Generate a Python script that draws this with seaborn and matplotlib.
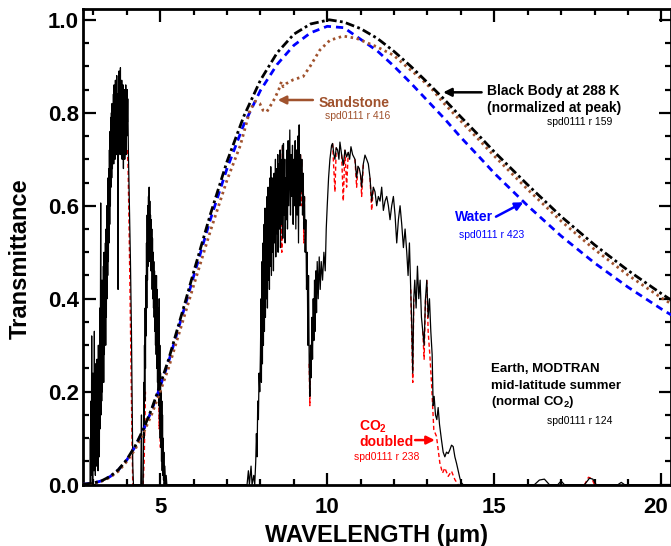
import matplotlib
matplotlib.use("Agg")
import matplotlib.pyplot as plt
import matplotlib.transforms as mtransforms
from matplotlib.ticker import MultipleLocator
import seaborn as sns
import pandas as pd

# ---------------- data ----------------
# Earth MODTRAN mid-latitude summer transmittance (normal CO2)
earth_wl = [2.69, 2.90, 2.91, 2.92, 2.93, 2.94, 2.95, 2.96, 2.97, 2.98, 2.99, 3.00, 3.01, 3.02, 3.03, 3.04,
            3.05, 3.06, 3.07, 3.08, 3.09, 3.10, 3.11, 3.12, 3.13, 3.14, 3.15, 3.16, 3.17, 3.18, 3.19, 3.20,
            3.21, 3.22, 3.23, 3.24, 3.25, 3.26, 3.27, 3.28, 3.29, 3.30, 3.31, 3.32, 3.33, 3.34, 3.35, 3.36,
            3.37, 3.38, 3.39, 3.40, 3.41, 3.42, 3.43, 3.44, 3.45, 3.46, 3.47, 3.48, 3.49, 3.50, 3.51, 3.52,
            3.53, 3.54, 3.55, 3.56, 3.57, 3.58, 3.59, 3.60, 3.61, 3.62, 3.63, 3.64, 3.65, 3.66, 3.67, 3.68,
            3.69, 3.70, 3.71, 3.72, 3.73, 3.74, 3.75, 3.76, 3.77, 3.78, 3.79, 3.80, 3.81, 3.82, 3.83, 3.84,
            3.85, 3.86, 3.87, 3.88, 3.89, 3.90, 3.91, 3.92, 3.93, 3.94, 3.95, 3.96, 3.97, 3.98, 3.99, 4.00,
            4.01, 4.02, 4.03, 4.05, 4.08, 4.11, 4.14, 4.16, 4.18, 4.20,
            4.42, 4.44, 4.45, 4.49, 4.50, 4.51, 4.52, 4.53, 4.54, 4.55, 4.56, 4.57, 4.58, 4.59, 4.60, 4.61,
            4.62, 4.63, 4.64, 4.65, 4.66, 4.67, 4.68, 4.69, 4.70, 4.71, 4.72, 4.73, 4.74, 4.75, 4.76, 4.77,
            4.78, 4.79, 4.80, 4.81, 4.82, 4.83, 4.84, 4.85, 4.86, 4.87, 4.88, 4.89, 4.90, 4.91, 4.92, 4.93,
            4.94, 4.95, 4.96, 4.97, 4.98, 4.99, 5.00, 5.01, 5.02, 5.03, 5.04, 5.05, 5.06, 5.07, 5.08, 5.09,
            5.10, 5.11, 5.12, 5.14, 5.16, 5.18, 5.20,
            7.60, 7.64, 7.67, 7.72, 7.75, 7.80, 7.83, 7.86, 7.88, 7.90, 7.92, 7.94, 7.96, 7.98,
            8.00, 8.02, 8.03, 8.05, 8.06, 8.08, 8.09, 8.11, 8.12, 8.14, 8.15, 8.17, 8.18, 8.20, 8.21, 8.23,
            8.24, 8.26, 8.27, 8.29, 8.30, 8.31, 8.33, 8.35, 8.36, 8.38, 8.39, 8.41, 8.43, 8.45, 8.46, 8.48,
            8.50, 8.52, 8.53, 8.55, 8.57, 8.59, 8.60, 8.62, 8.64, 8.66, 8.67, 8.69, 8.71, 8.73, 8.74, 8.76,
            8.78, 8.80, 8.81, 8.83, 8.85, 8.88, 8.90, 8.92, 8.94, 8.96, 8.98, 9.00, 9.02, 9.04, 9.06, 9.08,
            9.10, 9.12, 9.14, 9.16, 9.18, 9.20, 9.22, 9.24, 9.26, 9.28, 9.30, 9.32, 9.34, 9.36, 9.38, 9.40,
            9.42, 9.44, 9.46, 9.48, 9.50, 9.52, 9.54, 9.56, 9.58, 9.60, 9.62, 9.64, 9.66, 9.68, 9.70, 9.73,
            9.76, 9.79, 9.82, 9.86, 9.90, 9.94, 9.97, 10.00, 10.04, 10.08, 10.13,
            10.16, 10.20, 10.23, 10.27, 10.31, 10.35, 10.38, 10.43, 10.48, 10.53, 10.58, 10.63, 10.67, 10.71,
            10.76, 10.83, 10.88, 10.92, 10.96, 11.00, 11.03, 11.08, 11.13, 11.18, 11.23, 11.28, 11.33, 11.38,
            11.43, 11.48, 11.53, 11.58, 11.63, 11.68, 11.73, 11.78, 11.83, 11.88, 11.93, 11.98, 12.03, 12.08,
            12.13, 12.18, 12.23, 12.28, 12.33, 12.38, 12.42, 12.46, 12.50, 12.53, 12.56, 12.59, 12.62, 12.66,
            12.70, 12.74, 12.78, 12.82, 12.86, 12.90, 12.94, 12.98, 13.02, 13.06, 13.10, 13.14, 13.17, 13.20,
            13.24, 13.28, 13.32, 13.36, 13.42, 13.47, 13.52, 13.57, 13.62, 13.67, 13.72, 13.77, 13.82, 13.87,
            13.92, 13.97, 14.02, 14.07,
            16.20, 16.35, 16.50, 16.65, 16.90, 17.00, 17.10, 17.70, 17.85, 17.95, 18.05, 18.70, 18.80, 18.90,
            20.30]
earth_tr = [0.0, 0.0, 0.10, 0.0, 0.18, 0.02, 0.32, 0.04, 0.20, 0.01, 0.24, 0.05, 0.19, 0.03, 0.33, 0.06,
            0.22, 0.02, 0.26, 0.07, 0.21, 0.04, 0.27, 0.08, 0.24, 0.03, 0.30, 0.10, 0.26, 0.06, 0.38, 0.12,
            0.32, 0.606, 0.15, 0.40, 0.18, 0.44, 0.20, 0.42, 0.24, 0.47, 0.22, 0.50, 0.28, 0.46, 0.32, 0.52,
            0.30, 0.55, 0.36, 0.60, 0.40, 0.58, 0.45, 0.66, 0.48, 0.68, 0.52, 0.72, 0.56, 0.76, 0.60, 0.79,
            0.64, 0.80, 0.66, 0.82, 0.68, 0.78, 0.70, 0.84, 0.69, 0.86, 0.72, 0.83, 0.70, 0.87, 0.73, 0.85,
            0.71, 0.88, 0.74, 0.84, 0.70, 0.42, 0.80, 0.72, 0.89, 0.74, 0.86, 0.71, 0.897, 0.75, 0.85, 0.72,
            0.87, 0.70, 0.84, 0.74, 0.86, 0.68, 0.83, 0.72, 0.85, 0.70, 0.82, 0.73, 0.86, 0.71, 0.84, 0.75,
            0.85, 0.78, 0.83, 0.71, 0.60, 0.48, 0.33, 0.18, 0.04, 0.0,
            0.0, 0.15, 0.0, 0.0, 0.08, 0.22, 0.10, 0.30, 0.18, 0.38, 0.25, 0.45, 0.32, 0.52, 0.38, 0.58,
            0.44, 0.60, 0.47, 0.62, 0.50, 0.64, 0.48, 0.61, 0.50, 0.58, 0.46, 0.57, 0.47, 0.55, 0.42, 0.53,
            0.40, 0.50, 0.38, 0.48, 0.36, 0.46, 0.33, 0.45, 0.30, 0.44, 0.28, 0.45, 0.25, 0.42, 0.22, 0.38,
            0.20, 0.36, 0.17, 0.40, 0.14, 0.30, 0.10, 0.24, 0.08, 0.20, 0.05, 0.18, 0.03, 0.15, 0.02, 0.10,
            0.01, 0.07, 0.0, 0.04, 0.0, 0.02, 0.0,
            0.0, 0.03, 0.0, 0.04, 0.0, 0.02, 0.0, 0.05, 0.11, 0.06, 0.18, 0.14, 0.24, 0.20,
            0.28, 0.40, 0.22, 0.48, 0.26, 0.52, 0.30, 0.56, 0.33, 0.595, 0.36, 0.58, 0.40, 0.62, 0.38, 0.64,
            0.44, 0.60, 0.42, 0.66, 0.47, 0.684, 0.45, 0.66, 0.50, 0.64, 0.46, 0.67, 0.52, 0.70, 0.49, 0.68,
            0.54, 0.71, 0.50, 0.69, 0.55, 0.72, 0.51, 0.70, 0.56, 0.73, 0.53, 0.734, 0.58, 0.70, 0.52, 0.66,
            0.57, 0.72, 0.55, 0.74, 0.60, 0.763, 0.58, 0.71, 0.62, 0.73, 0.56, 0.70, 0.60, 0.74, 0.55, 0.72,
            0.58, 0.75, 0.52, 0.774, 0.60, 0.71, 0.63, 0.70, 0.58, 0.67, 0.55, 0.62, 0.50, 0.57, 0.42, 0.50,
            0.30, 0.45, 0.26, 0.19, 0.30, 0.23, 0.36, 0.27, 0.40, 0.31, 0.44, 0.33, 0.46, 0.37, 0.48, 0.40,
            0.49, 0.42, 0.48, 0.44, 0.50, 0.46, 0.55, 0.60, 0.66, 0.70, 0.73,
            0.734, 0.71, 0.70, 0.725, 0.72, 0.70, 0.737, 0.71, 0.687, 0.72, 0.705, 0.715, 0.70, 0.727,
            0.71, 0.70, 0.66, 0.685, 0.68, 0.665, 0.64, 0.69, 0.709, 0.70, 0.69, 0.66, 0.61, 0.64,
            0.63, 0.60, 0.62, 0.61, 0.64, 0.59, 0.61, 0.62, 0.60, 0.57, 0.60, 0.62, 0.58, 0.52,
            0.57, 0.60, 0.56, 0.51, 0.55, 0.50, 0.45, 0.52, 0.42, 0.34, 0.24, 0.40, 0.44, 0.38,
            0.47, 0.40, 0.44, 0.36, 0.33, 0.30, 0.40, 0.44, 0.36, 0.40, 0.33, 0.28, 0.17, 0.19,
            0.15, 0.14, 0.166, 0.13, 0.096, 0.07, 0.06, 0.07, 0.067, 0.075, 0.085, 0.082, 0.06, 0.046,
            0.03, 0.014, 0.004, 0.0,
            0.0, 0.01, 0.012, 0.0, 0.0, 0.008, 0.0, 0.0, 0.014, 0.012, 0.0, 0.0, 0.005, 0.0,
            0.0]

# CO2 doubled: segments where it departs from the normal-CO2 curve
co2_seg = [1, 1, 1, 1, 1, 1, 1,
           2, 2, 2, 2,
           3, 3, 3, 3, 3,
           4, 4, 4, 5, 5, 5, 6, 6, 6,
           7, 7, 7,
           8, 8, 8, 9, 9, 9, 10, 10, 10, 11, 11, 11, 12, 12, 12, 13, 13, 13,
           14, 14, 14, 15, 15, 15,
           16, 16, 16, 16, 16, 16, 16, 16, 16, 16, 16, 16, 16,
           17, 17, 17, 17]
co2_wl = [4.02, 4.04, 4.07, 4.10, 4.13, 4.16, 4.18,
          4.49, 4.52, 4.54, 4.56,
          4.93, 4.95, 4.97, 4.99, 5.00,
          8.62, 8.64, 8.66, 9.20, 9.22, 9.24, 9.28, 9.30, 9.32,
          9.46, 9.48, 9.50,
          10.16, 10.23, 10.27, 10.43, 10.48, 10.53, 10.53, 10.58, 10.63, 10.83, 10.88, 10.92,
          11.00, 11.03, 11.08, 11.28, 11.33, 11.38,
          12.50, 12.56, 12.59, 12.86, 12.90, 12.94,
          12.98, 13.02, 13.07, 13.12, 13.19, 13.27, 13.37, 13.45, 13.52, 13.62, 13.72, 13.82, 13.92,
          17.70, 17.82, 17.92, 18.00]
co2_tr = [0.72, 0.68, 0.55, 0.40, 0.24, 0.08, 0.0,
          0.0, 0.05, 0.12, 0.20,
          0.30, 0.25, 0.12, 0.20, 0.08,
          0.70, 0.50, 0.73, 0.71, 0.60, 0.70, 0.67, 0.52, 0.62,
          0.26, 0.17, 0.30,
          0.734, 0.63, 0.725, 0.71, 0.61, 0.72, 0.72, 0.64, 0.715, 0.70, 0.64, 0.685,
          0.665, 0.62, 0.69, 0.66, 0.59, 0.64,
          0.42, 0.22, 0.40, 0.33, 0.27, 0.40,
          0.44, 0.33, 0.28, 0.22, 0.118, 0.104, 0.047, 0.025, 0.036, 0.018, 0.029, 0.011, 0.0,
          0.0, 0.016, 0.013, 0.0]

# Black body at 288 K (normalized at peak)
bb_wl = [2.69, 3.0, 3.25, 3.5, 3.75, 4.0, 4.25, 4.5, 4.75, 5.0, 5.25, 5.5, 5.75, 6.0, 6.5, 7.0, 7.5,
         8.0, 8.5, 9.0, 9.5, 10.0, 10.06, 10.5, 11.0, 11.5, 12.0, 12.5, 13.0, 13.5, 14.0, 14.5, 15.0,
         16.0, 17.0, 18.0, 19.0, 20.0, 20.3]
bb_tr = [0.0009, 0.0035, 0.0085, 0.0177, 0.0324, 0.054, 0.083, 0.120, 0.164, 0.215, 0.269, 0.331,
         0.393, 0.457, 0.581, 0.695, 0.792, 0.870, 0.929, 0.969, 0.991, 0.999, 1.0, 0.995, 0.981,
         0.960, 0.932, 0.900, 0.865, 0.829, 0.791, 0.754, 0.716, 0.645, 0.577, 0.516, 0.461, 0.411,
         0.397]

# Water (spd0111 r 423)
water_wl = [2.69, 3.0, 3.25, 3.5, 3.75, 4.0, 4.25, 4.5, 4.75, 5.0, 5.25, 5.5, 5.75, 6.0, 6.5, 7.0, 7.5,
            8.0, 8.5, 9.0, 9.5, 10.0, 10.5, 11.0, 11.5, 12.0, 12.5, 13.0, 13.5, 14.0, 14.5, 15.0,
            16.0, 17.0, 18.0, 19.0, 20.0, 20.3]
water_tr = [0.0009, 0.0034, 0.0084, 0.0174, 0.0318, 0.053, 0.0815, 0.1175, 0.161, 0.211, 0.264, 0.325,
            0.386, 0.448, 0.570, 0.680, 0.774, 0.848, 0.904, 0.945, 0.972, 0.986, 0.983, 0.958, 0.933,
            0.900, 0.864, 0.826, 0.788, 0.747, 0.709, 0.670, 0.600, 0.535, 0.477, 0.425, 0.378, 0.365]

# Sandstone (spd0111 r 416)
sand_wl = [2.69, 3.0, 3.25, 3.5, 3.75, 4.0, 4.25, 4.5, 4.75, 5.0, 5.25, 5.5, 5.75, 6.0, 6.5, 7.0, 7.4,
           7.69, 7.85, 7.98, 8.08, 8.19, 8.30, 8.43, 8.55, 8.63, 8.68, 8.78, 8.98, 9.28, 9.48, 9.78,
           10.08, 10.48, 10.88, 11.48, 11.98, 12.38, 12.78, 13.17, 13.47, 14.0, 14.5, 15.0, 16.0, 17.0,
           18.0, 19.0, 20.0, 20.3]
sand_tr = [0.0008, 0.003, 0.0075, 0.0158, 0.029, 0.050, 0.076, 0.111, 0.152, 0.200, 0.251, 0.310,
           0.369, 0.428, 0.545, 0.655, 0.73, 0.806, 0.825, 0.820, 0.805, 0.802, 0.815, 0.831, 0.850,
           0.867, 0.856, 0.863, 0.871, 0.878, 0.899, 0.935, 0.956, 0.965, 0.960, 0.942, 0.924, 0.899,
           0.875, 0.848, 0.822, 0.782, 0.745, 0.707, 0.635, 0.567, 0.506, 0.451, 0.402, 0.389]

x_major = [5, 10, 15, 20]
y_major = [0.0, 0.2, 0.4, 0.6, 0.8, 1.0]

# ---------------- style ----------------
sns.set_style("ticks")
plt.rcParams["font.family"] = ["Liberation Sans", "DejaVu Sans"]
plt.rcParams["font.weight"] = "bold"
plt.rcParams["text.color"] = "black"
plt.rcParams["axes.labelcolor"] = "black"
plt.rcParams["xtick.color"] = "black"
plt.rcParams["ytick.color"] = "black"
plt.rcParams["xtick.labelcolor"] = "black"
plt.rcParams["ytick.labelcolor"] = "black"
plt.rcParams["mathtext.fontset"] = "custom"
plt.rcParams["mathtext.rm"] = "Liberation Sans:bold"
plt.rcParams["mathtext.bf"] = "Liberation Sans:bold"
plt.rcParams["mathtext.it"] = "Liberation Sans:bold"

BROWN = "#A0522D"
BLUE = "#0000FF"
RED = "#FF0000"

fig = plt.figure(figsize=(6.71, 5.46), dpi=100)
ax = fig.add_axes([83 / 671, 1 - 484.7 / 546, (670.7 - 83) / 671, (484.7 - 8.5) / 546])

co2_df = pd.DataFrame({"wl": co2_wl, "tr": co2_tr, "seg": co2_seg})
sns.lineplot(data=co2_df, x="wl", y="tr", units="seg", estimator=None, sort=False,
             color=RED, lw=1.0, dashes=False, ax=ax, zorder=2, linestyle=(0, (3, 2)))
sns.lineplot(x=earth_wl, y=earth_tr, estimator=None, sort=False, color="black", lw=0.9,
             ax=ax, zorder=3)
sns.lineplot(x=water_wl, y=water_tr, estimator=None, sort=False, color=BLUE, lw=2.0,
             ax=ax, zorder=4, linestyle=(0, (2.6, 1.8)))
sns.lineplot(x=sand_wl, y=sand_tr, estimator=None, sort=False, color=BROWN, lw=2.0,
             ax=ax, zorder=5, linestyle=(0, (0.9, 1.3)))
sns.lineplot(x=bb_wl, y=bb_tr, estimator=None, sort=False, color="black", lw=2.0,
             ax=ax, zorder=6, linestyle=(0, (3.2, 1.2, 1.0, 1.2)))

ax.set_xlim(2.69, 20.28)
ax.set_ylim(0, 1.0243)
ax.set_xticks(x_major)
ax.set_xticklabels([str(v) for v in x_major])
ax.set_yticks(y_major)
ax.set_yticklabels([f"{v:.1f}" for v in y_major])
ax.xaxis.set_minor_locator(MultipleLocator(1))
ax.yaxis.set_minor_locator(MultipleLocator(0.05))
ax.tick_params(which="both", direction="in", top=True, right=True, width=1.6, color="black",
               labelcolor="black")
ax.tick_params(which="major", length=9, labelsize=16)
ax.tick_params(which="minor", length=4.5)
ax.tick_params(axis="x", which="major", pad=9)
ax.tick_params(axis="y", which="major", pad=3)
for lab in ax.get_xticklabels() + ax.get_yticklabels():
    lab.set_fontweight("bold")
    lab.set_color("black")
# keep the last x label inside the figure, as in the reference
last = ax.xaxis.get_major_ticks()[-1].label1
last.set_transform(last.get_transform() + mtransforms.ScaledTranslation(-6 / 100, 0, fig.dpi_scale_trans))
for sp in ax.spines.values():
    sp.set_linewidth(2.0)
    sp.set_color("black")

ax.set_xlabel("WAVELENGTH (μm)", fontsize=17, fontweight="bold", labelpad=4, color="black")
ax.set_ylabel("Transmittance", fontsize=17, fontweight="bold", color="black")
ax.yaxis.set_label_coords(-0.088, 0.474)

# ---------------- annotations ----------------
arrow_kw = dict(arrowstyle="-|>", lw=1.8, mutation_scale=12, shrinkA=0, shrinkB=0)

ax.text(14.77, 0.847, "Black Body at 288 K", fontsize=10, fontweight="bold", color="black",
        ha="left", va="center")
ax.text(14.77, 0.810, "(normalized at peak)", fontsize=10, fontweight="bold", color="black",
        ha="left", va="center")
ax.text(18.54, 0.780, "spd0111 r 159", fontsize=7.5, color="black", ha="right", va="center",
        fontweight="normal")
ax.annotate("", xy=(13.47, 0.844), xytext=(14.62, 0.844),
            arrowprops=dict(color="black", **arrow_kw))

ax.text(9.73, 0.820, "Sandstone", fontsize=10, fontweight="bold", color=BROWN,
        ha="left", va="center")
ax.text(9.93, 0.792, "spd0111 r 416", fontsize=7.5, color=BROWN, ha="left", va="center",
        fontweight="normal")
ax.annotate("", xy=(8.52, 0.8275), xytext=(9.57, 0.8275),
            arrowprops=dict(color=BROWN, **arrow_kw))

ax.text(13.82, 0.575, "Water", fontsize=10, fontweight="bold", color=BLUE,
        ha="left", va="center")
ax.text(13.95, 0.537, "spd0111 r 423", fontsize=7.5, color=BLUE, ha="left", va="center",
        fontweight="normal")
ax.annotate("", xy=(15.87, 0.6075), xytext=(15.05, 0.5765),
            arrowprops=dict(color=BLUE, **arrow_kw))

ax.text(14.89, 0.248, "Earth, MODTRAN", fontsize=9.5, fontweight="bold", color="black",
        ha="left", va="center")
ax.text(14.89, 0.213, "mid-latitude summer", fontsize=9.5, fontweight="bold", color="black",
        ha="left", va="center")
ax.text(14.89, 0.177, "(normal CO$_{2}$)", fontsize=9.5, fontweight="bold", color="black",
        ha="left", va="center")
ax.text(16.59, 0.138, "spd0111 r 124", fontsize=7.5, color="black", ha="left", va="center",
        fontweight="normal")

ax.text(10.96, 0.125, "CO$_{2}$", fontsize=10, fontweight="bold", color=RED, ha="left", va="center")
ax.text(10.96, 0.091, "doubled", fontsize=10, fontweight="bold", color=RED, ha="left", va="center")
ax.text(10.80, 0.059, "spd0111 r 238", fontsize=7.5, color=RED, ha="left", va="center",
        fontweight="normal")
ax.annotate("", xy=(13.22, 0.096), xytext=(12.63, 0.096),
            arrowprops=dict(color=RED, **arrow_kw))

fig.savefig("out.png", dpi=100)
